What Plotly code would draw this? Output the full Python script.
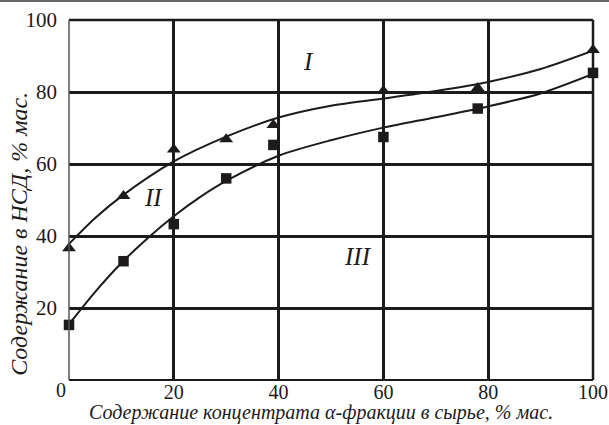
import plotly.graph_objects as go

# measured points
tri_x = [0, 10.4, 20, 30, 39, 60, 78, 100]
tri_y = [36.6, 51.1, 64.0, 66.9, 70.8, 80.3, 81.1, 91.7]
sq_x = [0, 10.4, 20, 30, 39, 60, 78, 100]
sq_y = [15.3, 33.0, 43.3, 56.0, 65.3, 67.5, 75.4, 85.3]

# fitted curves
cu_x = [0, 5, 10, 20, 30, 40, 50, 60, 70, 80, 90, 100]
cu_y = [37.8, 45.0, 51.0, 60.7, 67.6, 72.9, 76.2, 78.2, 80.3, 82.8, 86.4, 91.5]
cl_x = [0, 5, 10, 15, 20, 25, 30, 40, 50, 60, 70, 80, 90, 100]
cl_y = [15.5, 24.5, 32.5, 39.4, 45.5, 50.8, 55.3, 62.3, 66.6, 70.1, 73.0, 76.0, 79.6, 85.0]

x_ticks = [20, 40, 60, 80, 100]
y_ticks = [20, 40, 60, 80, 100]
origin_label = "0"

x_title = "Содержание концентрата α-фракции в сырье, % мас."
y_title = "Содержание в НСД, % мас."

labels = [("I", 45.7, 88.5), ("II", 16.2, 50.6), ("III", 55.2, 34.4)]

INK = "#1c1a1b"
FONT = "Times New Roman"

fig = go.Figure()
fig.add_trace(go.Scatter(x=cu_x, y=cu_y, mode="lines", line=dict(color=INK, width=2, shape="spline", smoothing=0.8),
                         hoverinfo="skip", showlegend=False))
fig.add_trace(go.Scatter(x=cl_x, y=cl_y, mode="lines", line=dict(color=INK, width=2, shape="spline", smoothing=0.8),
                         hoverinfo="skip", showlegend=False))
fig.add_trace(go.Scatter(x=tri_x, y=tri_y, mode="markers", marker=dict(symbol="triangle-up", size=12, color=INK),
                         cliponaxis=False, showlegend=False))
fig.add_trace(go.Scatter(x=sq_x, y=sq_y, mode="markers", marker=dict(symbol="square", size=10.5, color=INK),
                         cliponaxis=False, showlegend=False))

for t, x, y in labels:
    fig.add_annotation(x=x, y=y, text=t, showarrow=False,
                       font=dict(family=FONT, size=25, color=INK, style="italic"))

# origin label and axis titles
fig.add_annotation(xref="paper", yref="paper", x=-0.016, y=-0.029, text=origin_label, showarrow=False,
                   xanchor="center", yanchor="middle", borderpad=0, borderwidth=0,
                   font=dict(family=FONT, size=20, color=INK))
fig.add_annotation(xref="paper", yref="paper", x=0.481, y=-0.1236, text=x_title, showarrow=False,
                   xanchor="center", yanchor="bottom", borderpad=0, borderwidth=0,
                   font=dict(family=FONT, size=20, color=INK, style="italic"))
fig.add_annotation(xref="paper", yref="paper", x=-0.0955, y=0.406, text=y_title, showarrow=False, textangle=-90,
                   xanchor="center", yanchor="middle",
                   font=dict(family=FONT, size=24, color=INK, style="italic"))

# frame
fig.add_shape(type="line", xref="paper", yref="paper", x0=0, x1=1, y0=1, y1=1, line=dict(color=INK, width=2.5))
fig.add_shape(type="line", xref="paper", yref="paper", x0=1, x1=1, y0=0, y1=1, line=dict(color=INK, width=2.5))
fig.add_shape(type="line", xref="paper", yref="paper", x0=0, x1=1, y0=0, y1=0, line=dict(color=INK, width=2))
fig.add_shape(type="line", xref="paper", yref="paper", x0=0, x1=0, y0=0, y1=1, line=dict(color="#555555", width=1.5))
fig.add_shape(type="line", xref="paper", yref="paper", x0=-0.2, x1=1.1, y0=1.053, y1=1.053,
              line=dict(color="#666666", width=2))

fig.update_layout(
    width=609, height=425,
    margin=dict(l=69, r=16, t=20, b=45, autoexpand=False),
    paper_bgcolor="white", plot_bgcolor="white",
    font=dict(family=FONT, color=INK),
    xaxis=dict(range=[0, 100], tickvals=x_ticks, ticktext=[str(v) for v in x_ticks],
               showgrid=True, gridcolor=INK, gridwidth=2.5, zeroline=False, showline=False, automargin=False,
               ticks="", ticklabelstandoff=-2, tickfont=dict(size=20, family=FONT, color=INK)),
    yaxis=dict(range=[0, 100], tickvals=y_ticks, ticktext=[str(v) for v in y_ticks],
               showgrid=True, gridcolor=INK, gridwidth=2.5, zeroline=False, showline=False, automargin=False,
               ticks="", ticklabelstandoff=11, tickfont=dict(size=21, family=FONT, color=INK)),
)

fig.write_html("out.html")
